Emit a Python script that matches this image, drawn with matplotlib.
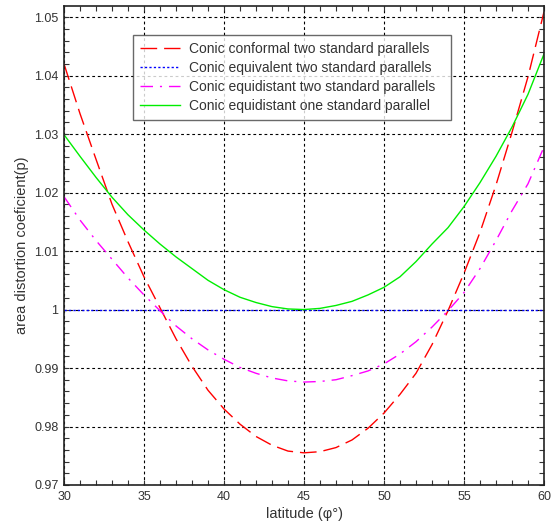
import matplotlib
matplotlib.use('Agg')
import matplotlib.pyplot as plt
import numpy as np

plt.rcParams['font.family'] = ['Liberation Sans', 'DejaVu Sans']

# latitude (degrees)
lat = list(range(30, 61))

# area distortion coefficients
conformal = [1.0420, 1.0335, 1.0257, 1.0180, 1.0116, 1.0056, 1.0003, 0.9950, 0.9903, 0.9862,
             0.9830, 0.9804, 0.9783, 0.9768, 0.9758, 0.9755, 0.9757, 0.9764, 0.9777, 0.9797,
             0.9823, 0.9855, 0.9891, 0.9940, 0.9998, 1.0062, 1.0132, 1.0213, 1.0303, 1.0398,
             1.0509]
equivalent = [1.0] * len(lat)
equidist_two = [1.0193, 1.0153, 1.0118, 1.0086, 1.0054, 1.0025, 0.9998, 0.9972, 0.9950, 0.9931,
                0.9915, 0.9901, 0.9891, 0.9883, 0.9878, 0.9876, 0.9877, 0.9880, 0.9887, 0.9895,
                0.9907, 0.9924, 0.9945, 0.9970, 0.9998, 1.0029, 1.0070, 1.0118, 1.0169, 1.0215,
                1.0278]
equidist_one = [1.0299, 1.0262, 1.0226, 1.0192, 1.0162, 1.0136, 1.0112, 1.0090, 1.0070, 1.0050,
                1.0034, 1.0021, 1.0012, 1.0005, 1.0001, 1.0000, 1.0002, 1.0007, 1.0014, 1.0025,
                1.0038, 1.0056, 1.0082, 1.0112, 1.0140, 1.0176, 1.0217, 1.0262, 1.0312, 1.0368,
                1.0437]

labels = ['Conic conformal two standard parallels',
          'Conic equivalent two standard parallels',
          'Conic equidistant two standard parallels',
          'Conic equidistant one standard parallel']

xticks = [30, 35, 40, 45, 50, 55, 60]
yticks = [0.97, 0.98, 0.99, 1.0, 1.01, 1.02, 1.03, 1.04, 1.05]
ytick_labels = ['0.97', '0.98', '0.99', '1', '1.01', '1.02', '1.03', '1.04', '1.05']

fig = plt.figure(figsize=(5.52, 5.24), dpi=100)
ax = fig.add_axes([64 / 552, 1 - 485 / 524, 480 / 552, 479 / 524])

ax.plot(lat, conformal, color='#ff0000', lw=1, dashes=(12, 5), label=labels[0])
ax.plot(lat, equivalent, color='#0000ff', lw=1, dashes=(1.6, 1.6), label=labels[1])
ax.plot(lat, equidist_two, color='#ff00ff', lw=1, dashes=(9, 5, 1.5, 5), label=labels[2])
ax.plot(lat, equidist_one, color='#00ee00', lw=1, label=labels[3])

ax.set_xlim(30, 60)
ax.set_ylim(0.97, 1.0519)
ax.set_xticks(xticks)
ax.set_yticks(yticks)
ax.set_yticklabels(ytick_labels)
ax.set_xticks(np.arange(30, 61, 1), minor=True)
ax.set_yticks(np.arange(0.97, 1.0519, 0.002), minor=True)
ax.tick_params(which='both', direction='in', top=True, right=True,
               length=3.5, width=0.8, labelsize=9, colors='#333333', pad=4)
ax.grid(True, which='major', color='black', linestyle=(0, (2.5, 2.5)), linewidth=0.8)
ax.set_axisbelow(True)
for s in ax.spines.values():
    s.set_color('#222222')
    s.set_linewidth(1.2)

ax.set_xlabel('latitude (φ°)', fontsize=10.5, color='#333333', labelpad=3)
ax.set_ylabel('area distortion coeficient(p)', fontsize=10.5, color='#333333', labelpad=4)

# legend box spans px 133..451 horizontally, top at px 35
leg = ax.legend(loc='upper left', bbox_to_anchor=(69 / 480, 0.5, 318 / 480, (485 - 35) / 479 - 0.5),
                mode='expand', borderaxespad=0, fancybox=False, edgecolor='#444444',
                fontsize=10, handlelength=2.9, handletextpad=0.6, labelspacing=0.36,
                borderpad=0.5)
leg.get_frame().set_linewidth(1.0)
for t in leg.get_texts():
    t.set_color('#333333')

fig.savefig('out.png', dpi=100)
